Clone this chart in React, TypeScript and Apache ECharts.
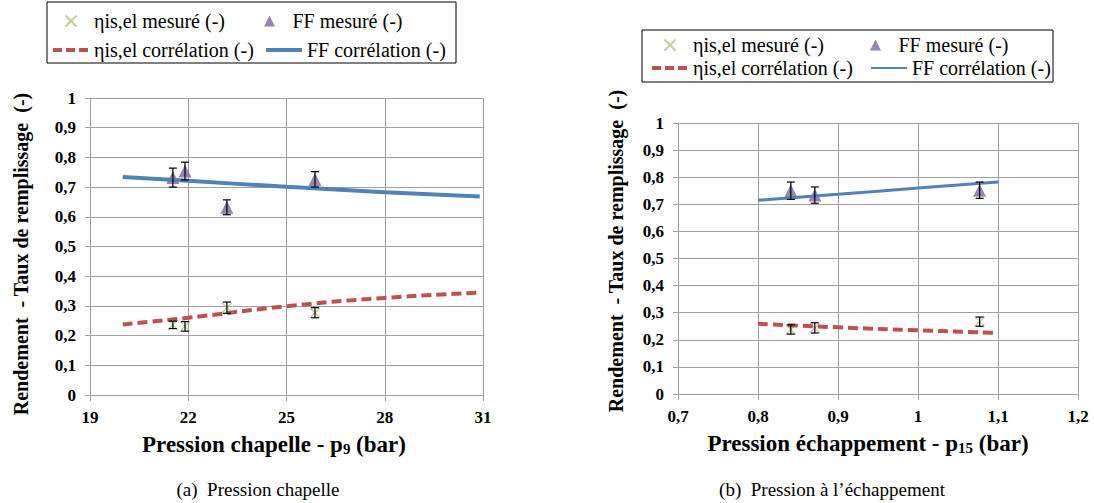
import React, { useEffect, useRef } from 'react';
import * as echarts from 'echarts';

// ---- Chart (a): Pression chapelle ----
const chapTicks = [19, 22, 25, 28, 31];
const pChap = [21.53, 21.9, 23.18, 25.87];
const ffChap = [0.732, 0.754, 0.632, 0.726];
const ffChapErr = [0.032, 0.03, 0.025, 0.026];
const etaChap = [0.236, 0.231, 0.294, 0.277];
const etaChapErr = [0.0125, 0.016, 0.019, 0.017];
const pChapCorr = [20, 22, 25, 28, 30.9];
const ffChapCorr = [0.734, 0.721, 0.701, 0.683, 0.668];
const etaChapCorr = [0.2375, 0.26, 0.299, 0.327, 0.345];

// ---- Chart (b): Pression à l'échappement ----
const echTicks = [0.7, 0.8, 0.9, 1, 1.1, 1.2];
const pEch = [0.841, 0.871, 1.077];
const ffEch = [0.75, 0.734, 0.752];
const ffEchErr = [0.032, 0.03, 0.03];
const etaEch = [0.238, 0.244, 0.267];
const etaEchErr = [0.017, 0.019, 0.017];
const pEchCorr = [0.8, 0.9, 1.0, 1.1];
const ffEchCorr = [0.715, 0.737, 0.76, 0.782];
const etaEchCorr = [0.259, 0.246, 0.235, 0.225];

const yTicks = [0, 0.1, 0.2, 0.3, 0.4, 0.5, 0.6, 0.7, 0.8, 0.9, 1];

const NAME_ETA_M = 'ηis,el mesuré (-)';
const NAME_FF_M = 'FF mesuré (-)';
const NAME_ETA_C = 'ηis,el corrélation (-)';
const NAME_FF_C = 'FF corrélation (-)';

const SERIF = 'Liberation Serif';
const GRID_COLOR = '#A0A0A0';
const PURPLE = '#8064A2';
const BLUE = '#4F81BD';
const RED = '#C0504D';
const GREEN = '#A9C77A';
const TRIANGLE = 'path://M5,0L10,10L0,10Z';
const CROSS = 'path://M0,0L10,10M10,0L0,10';

const fmt = (v: number) => String(Math.round(v * 10) / 10).replace('.', ',');

function xAxisCfg(gridIndex: number, min: number, max: number, ticks: number[]) {
  return {
    type: 'value',
    gridIndex,
    min,
    max,
    axisLine: { show: true, lineStyle: { color: GRID_COLOR, width: 1 } },
    axisTick: { show: true, inside: false, length: 6, lineStyle: { color: GRID_COLOR }, customValues: ticks },
    axisLabel: {
      customValues: ticks,
      formatter: fmt,
      margin: 14,
      color: '#000',
      fontFamily: SERIF,
      fontWeight: 'bold',
      fontSize: 17,
    },
    splitLine: { show: true, lineStyle: { color: GRID_COLOR, width: 1 } },
  };
}

function yAxisCfg(gridIndex: number) {
  return {
    type: 'value',
    gridIndex,
    min: 0,
    max: 1,
    axisLine: { show: true, lineStyle: { color: GRID_COLOR, width: 1 } },
    axisTick: { show: true, inside: false, length: 5, lineStyle: { color: GRID_COLOR }, customValues: yTicks },
    axisLabel: {
      customValues: yTicks,
      formatter: fmt,
      margin: 14,
      color: '#000',
      fontFamily: SERIF,
      fontWeight: 'bold',
      fontSize: 17,
    },
    splitLine: { show: true, lineStyle: { color: GRID_COLOR, width: 1 } },
  };
}

function errorSeries(idx: number, key: string, xs: number[], vs: number[], es: number[]) {
  return {
    type: 'custom',
    name: 'err-' + idx + '-' + key,
    xAxisIndex: idx,
    yAxisIndex: idx,
    z: 5,
    encode: { x: 0, y: [1, 2] },
    data: xs.map((x, i) => [x, vs[i] - es[i], vs[i] + es[i]]),
    renderItem: (params: any, api: any) => {
      const x = api.value(0);
      const top = api.coord([x, api.value(2)]);
      const bot = api.coord([x, api.value(1)]);
      const w = 4;
      const st = { stroke: '#000', lineWidth: 1.2 };
      return {
        type: 'group',
        children: [
          { type: 'line', shape: { x1: top[0], y1: top[1], x2: bot[0], y2: bot[1] }, style: st },
          { type: 'line', shape: { x1: top[0] - w, y1: top[1], x2: top[0] + w, y2: top[1] }, style: st },
          { type: 'line', shape: { x1: bot[0] - w, y1: bot[1], x2: bot[0] + w, y2: bot[1] }, style: st },
        ],
      };
    },
  };
}

function chartSeries(
  idx: number,
  xs: number[], ff: number[], ffErr: number[], eta: number[], etaErr: number[],
  xc: number[], ffc: number[], etac: number[], lineW: number
) {
  return [
    {
      type: 'scatter',
      name: NAME_ETA_M,
      xAxisIndex: idx,
      yAxisIndex: idx,
      symbol: CROSS,
      symbolSize: 10,
      symbolKeepAspect: true,
      itemStyle: { color: 'rgba(0,0,0,0)', borderColor: GREEN, borderWidth: 1.3 },
      z: 2,
      data: xs.map((x, i) => [x, eta[i]]),
    },
    {
      type: 'scatter',
      name: NAME_FF_M,
      xAxisIndex: idx,
      yAxisIndex: idx,
      symbol: TRIANGLE,
      symbolSize: 13,
      symbolKeepAspect: true,
      itemStyle: { color: PURPLE },
      z: 2,
      data: xs.map((x, i) => [x, ff[i]]),
    },
    {
      type: 'line',
      name: NAME_ETA_C,
      xAxisIndex: idx,
      yAxisIndex: idx,
      symbol: 'none',
      smooth: true,
      lineStyle: { color: RED, width: 4, type: [10, 5] },
      itemStyle: { color: RED },
      z: 3,
      data: xc.map((x, i) => [x, etac[i]]),
    },
    {
      type: 'line',
      name: NAME_FF_C,
      xAxisIndex: idx,
      yAxisIndex: idx,
      symbol: 'none',
      smooth: true,
      lineStyle: { color: BLUE, width: lineW },
      itemStyle: { color: BLUE },
      z: 3,
      data: xc.map((x, i) => [x, ffc[i]]),
    },
    errorSeries(idx, 'ff', xs, ff, ffErr),
    errorSeries(idx, 'eta', xs, eta, etaErr),
  ];
}

const hiddenSymbol = { color: 'rgba(0,0,0,0)', borderColor: 'rgba(0,0,0,0)', borderWidth: 0, opacity: 0 };

function legendCfg(
  left: number, top: number, padding: number[], lineHeight: number, gap: number,
  w1: number, w2: number, ffLineW: number
) {
  return {
    show: true,
    left,
    top,
    orient: 'horizontal',
    width: 41 + w1 + gap + 41 + w2 + 10,
    itemWidth: 36,
    itemHeight: 11,
    itemGap: gap,
    padding,
    borderColor: '#000',
    borderWidth: 1,
    selectedMode: false,
    textStyle: { fontFamily: SERIF, fontSize: 20, color: '#000', lineHeight },
    data: [
      { name: NAME_ETA_M, textStyle: { width: w1 } },
      { name: NAME_FF_M, textStyle: { width: w2 } },
      {
        name: NAME_ETA_C,
        textStyle: { width: w1 },
        lineStyle: { width: 4, color: RED, type: [9, 4] },
        itemStyle: hiddenSymbol,
      },
      {
        name: NAME_FF_C,
        textStyle: { width: w2 },
        lineStyle: { width: ffLineW, color: BLUE, type: 'solid' },
        itemStyle: hiddenSymbol,
      },
    ],
  };
}

export default function App() {
  const ref = useRef<HTMLDivElement>(null);

  useEffect(() => {
    document.body.style.margin = '0';
    if (!ref.current) return;
    const chart = echarts.init(ref.current, undefined, { renderer: 'svg' });
    const richTitle = {
      b: { fontFamily: SERIF, fontWeight: 'bold', fontSize: 23, fill: '#000', color: '#000', verticalAlign: 'bottom', lineHeight: 26 },
      s: { fontFamily: SERIF, fontWeight: 'bold', fontSize: 15, fill: '#000', color: '#000', verticalAlign: 'bottom', lineHeight: 20 },
    };
    const yTitleStyle = {
      text: 'Rendement  - Taux de remplissage  (-)',
      fontFamily: SERIF,
      fontWeight: 'bold',
      fontSize: 20,
      fill: '#000',
      align: 'center',
      verticalAlign: 'middle',
    };
    const captionStyle = { fontFamily: SERIF, fontSize: 19, fill: '#000', align: 'center', verticalAlign: 'middle' };
    chart.setOption({
      animation: false,
      backgroundColor: '#fff',
      grid: [
        { left: 90, top: 98, width: 393, height: 297 },
        { left: 678, top: 123, width: 400, height: 271 },
      ],
      xAxis: [xAxisCfg(0, 19, 31, chapTicks), xAxisCfg(1, 0.7, 1.2, echTicks)],
      yAxis: [yAxisCfg(0), yAxisCfg(1)],
      legend: [
        legendCfg(47, 2, [8, 10, 2, 4], 22, 7, 163, 139, 4),
        legendCfg(642, 30, [5, 2, 4, 8], 20, 3, 174, 139, 2),
      ],
      series: [
        ...chartSeries(0, pChap, ffChap, ffChapErr, etaChap, etaChapErr, pChapCorr, ffChapCorr, etaChapCorr, 4),
        ...chartSeries(1, pEch, ffEch, ffEchErr, etaEch, etaEchErr, pEchCorr, ffEchCorr, etaEchCorr, 3),
      ],
      graphic: [
        { type: 'text', x: 21, y: 254, rotation: Math.PI / 2, style: { ...yTitleStyle } },
        { type: 'text', x: 616, y: 251, rotation: Math.PI / 2, style: { ...yTitleStyle } },
        {
          type: 'text',
          x: 274,
          y: 443,
          style: {
            text: '{b|Pression chapelle - p}{s|9}{b| (bar)}',
            align: 'center',
            verticalAlign: 'middle',
            rich: richTitle,
          },
        },
        {
          type: 'text',
          x: 868,
          y: 442,
          style: {
            text: '{b|Pression échappement - p}{s|15}{b| (bar)}',
            align: 'center',
            verticalAlign: 'middle',
            rich: richTitle,
          },
        },
        { type: 'text', x: 258, y: 489, style: { text: '(a)  Pression chapelle', ...captionStyle } },
        { type: 'text', x: 832, y: 489, style: { text: '(b)  Pression à l’échappement', ...captionStyle } },
      ],
    });
    return () => chart.dispose();
  }, []);

  return <div ref={ref} style={{ width: 1094, height: 503 }} />;
}
